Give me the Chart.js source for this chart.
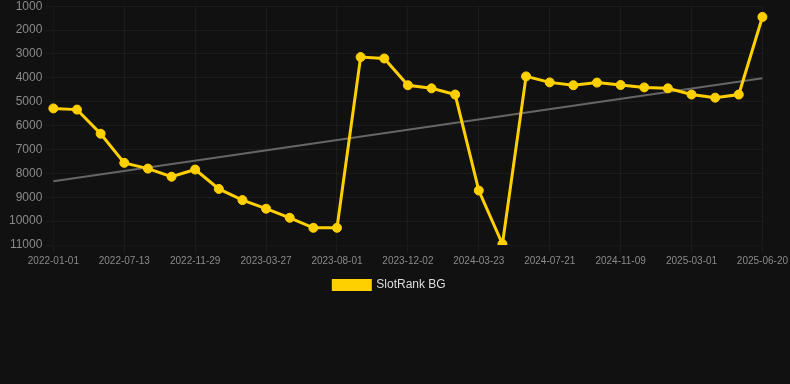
<!DOCTYPE html>
<html lang="en">
<head>
    <meta charset="UTF-8">
    <title>SlotRank BG</title>
    <style>
        html, body { margin: 0; padding: 0; background: #111111; overflow: hidden; }
        .wrap { position: relative; width: 790px; height: 305px; margin-top: -4px; }
    </style>
</head>
<body>
<div class="wrap">
    <canvas id="rank-chart"></canvas>
</div>

<script src="https://cdn.jsdelivr.net/npm/chart.js"></script>
<script>
    // dates of the rank snapshots
    const dates = [
        '2022-01-01', '2022-03-06', '2022-05-10', '2022-07-13', '2022-08-28', '2022-10-14',
        '2022-11-29', '2023-01-07', '2023-02-16', '2023-03-27', '2023-05-08', '2023-06-19',
        '2023-08-01', '2023-09-11', '2023-10-22', '2023-12-02', '2024-01-07', '2024-02-14',
        '2024-03-23', '2024-05-02', '2024-06-11', '2024-07-21', '2024-08-27', '2024-10-03',
        '2024-11-09', '2024-12-16', '2025-01-22', '2025-03-01', '2025-04-06', '2025-05-13',
        '2025-06-20'
    ];

    // rank values (lower is better)
    const rankBG = [
        5280, 5330, 6340, 7560, 7800, 8140, 7840, 8650, 9120, 9480, 9860, 10280,
        10280, 3130, 3190, 4310, 4440, 4700, 8720, 10960, 3940, 4190, 4310, 4200,
        4300, 4400, 4440, 4700, 4830, 4700, 1450
    ];

    // trend line end points
    const trendStart = 8330;
    const trendEnd = 4020;
    const trend = dates.map((d, i) => i === 0 ? trendStart : (i === dates.length - 1 ? trendEnd : null));

    const yTicks = [1000, 2000, 3000, 4000, 5000, 6000, 7000, 8000, 9000, 10000, 11000];

    const gridColor = 'rgba(255,255,255,0.045)';

    const ctx = document.getElementById('rank-chart').getContext('2d');
    new Chart(ctx, {
        type: 'line',
        data: {
            labels: dates,
            datasets: [{
                label: 'SlotRank BG',
                data: rankBG,
                borderColor: '#FFD000',
                backgroundColor: '#FFD000',
                borderWidth: 3,
                pointRadius: 4.5,
                pointBorderWidth: 1,
                pointHoverRadius: 5,
                tension: 0
            }, {
                label: 'trend',
                data: trend,
                borderColor: '#666666',
                borderWidth: 2,
                pointRadius: 0,
                spanGaps: true,
                tension: 0
            }]
        },
        options: {
            responsive: true,
            maintainAspectRatio: false,
            animation: false,
            layout: { padding: { left: 6, right: 17 } },
            plugins: {
                legend: {
                    position: 'bottom',
                    labels: {
                        color: '#dddddd',
                        font: { family: 'Helvetica, Arial, sans-serif', size: 12 },
                        boxWidth: 37,
                        boxHeight: 9,
                        filter: item => item.datasetIndex === 0
                    }
                },
                tooltip: { enabled: false }
            },
            scales: {
                x: {
                    grid: {
                        color: c => (c.index % 3 === 0 ? gridColor : 'transparent')
                    },
                    ticks: {
                        color: '#8a8a8a',
                        padding: 2,
                        font: { family: 'Helvetica, Arial, sans-serif', size: 10 },
                        autoSkip: false,
                        maxRotation: 0,
                        callback: function (v, i) { return i % 3 === 0 ? dates[i] : ''; }
                    }
                },
                y: {
                    reverse: true,
                    min: yTicks[0],
                    max: yTicks[yTicks.length - 1],
                    grid: { color: gridColor },
                    afterBuildTicks: axis => { axis.ticks = yTicks.map(v => ({ value: v })); },
                    ticks: {
                        color: '#8a8a8a',
                        font: { family: 'Helvetica, Arial, sans-serif', size: 12 },
                        callback: v => String(v)
                    }
                }
            }
        }
    });
</script>
</body>
</html>
